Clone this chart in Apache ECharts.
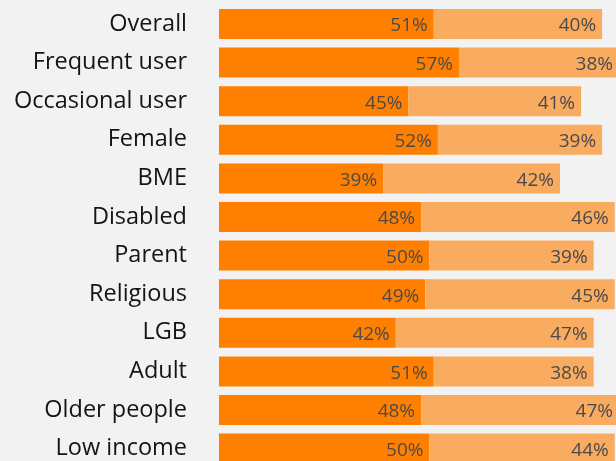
<!DOCTYPE html>
<html>
<head>
<meta charset="utf-8">
<script src="https://cdn.jsdelivr.net/npm/echarts@6/dist/echarts.min.js"></script>
<style>
  html, body { margin: 0; padding: 0; background: #f2f2f2; overflow: hidden; }
  #chart { width: 616px; height: 461px; }
</style>
</head>
<body>
<div id="chart"></div>
<script>
// Group names, top to bottom
const categories = [
  'Overall', 'Frequent user', 'Occasional user', 'Female', 'BME', 'Disabled',
  'Parent', 'Religious', 'LGB', 'Adult', 'Older people', 'Low income'
];
// First segment share (%)
const firstShare = [51, 57, 45, 52, 39, 48, 50, 49, 42, 51, 48, 50];
// Second segment share (%)
const secondShare = [40, 38, 41, 39, 42, 46, 39, 45, 47, 38, 47, 44];

const chart = echarts.init(document.getElementById('chart'), null, { renderer: 'canvas' });

const valueLabel = {
  show: true,
  position: 'insideRight',
  distance: 6,
  offset: [0, 2],
  formatter: p => p.value + '%',
  color: '#4a4a4a',
  fontFamily: 'Open Sans',
  fontSize: 19
};

chart.setOption({
  backgroundColor: '#f2f2f2',
  animation: false,
  grid: {
    left: 219, top: 4.7, width: 421, height: 463.2,
    containLabel: false, outerBoundsMode: 'none'
  },
  xAxis: {
    type: 'value', min: 0, max: 100,
    show: false
  },
  yAxis: {
    type: 'category',
    data: categories,
    inverse: true,
    axisLine: { show: false },
    axisTick: { show: false },
    splitLine: { show: false },
    axisLabel: {
      margin: 32,
      color: '#141414',
      fontFamily: 'Open Sans',
      fontSize: 23.5,
      padding: [5, 0, 0, 0]
    }
  },
  series: [
    {
      type: 'bar', stack: 'total', data: firstShare, barWidth: 30,
      itemStyle: { color: '#ff8000' },
      label: valueLabel
    },
    {
      type: 'bar', stack: 'total', data: secondShare, barWidth: 30,
      itemStyle: { color: '#f9ab60' },
      label: valueLabel
    }
  ]
});
</script>
</body>
</html>
